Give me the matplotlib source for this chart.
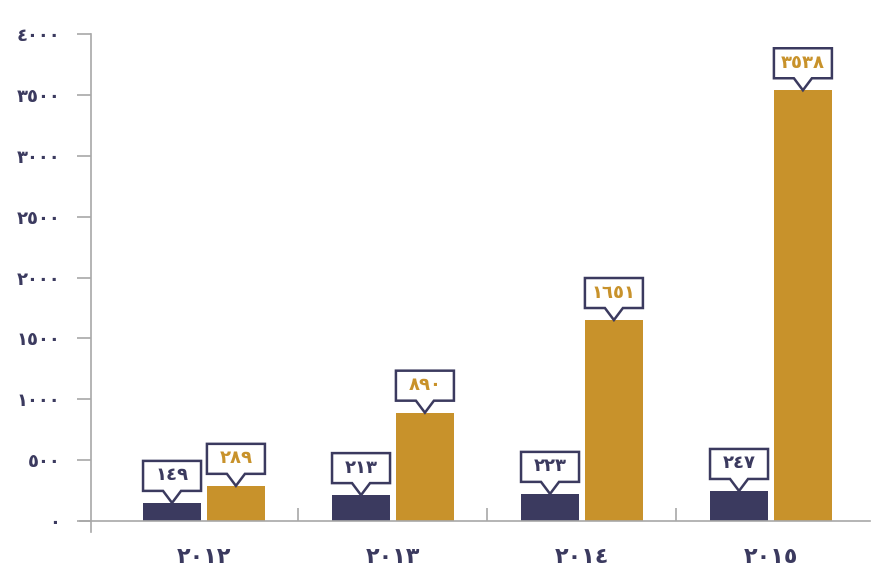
import matplotlib
matplotlib.use("Agg")
import matplotlib.pyplot as plt
import matplotlib.transforms as mtransforms
from matplotlib.patches import Polygon
import numpy as np

plt.rcParams['font.family'] = ['DejaVu Sans']

# data
years = ['٢٠١٢', '٢٠١٣', '٢٠١٤', '٢٠١٥']
series_a = [149, 213, 223, 247]
series_b = [289, 890, 1651, 3538]
yticks = [0, 500, 1000, 1500, 2000, 2500, 3000, 3500, 4000]

navy = '#3b3a5f'
gold = '#c8922b'
grey = '#a8a8a8'

AR = str.maketrans('0123456789', '٠١٢٣٤٥٦٧٨٩')


def ar(n):
    return str(n).translate(AR)


fig = plt.figure(figsize=(8.71, 5.68), dpi=100)
ax = fig.add_axes([80 / 871, 36 / 568, 790 / 871, 498 / 568])

x = np.arange(len(years))
w = 0.307
off = 0.169
ax.bar(x - off, series_a, w, color=navy, zorder=2)
ax.bar(x + off, series_b, w, color=gold, zorder=2)

ax.set_xlim(-0.656, 3.524)
ax.set_ylim(-90, 4000)

for s in ['top', 'right']:
    ax.spines[s].set_visible(False)
ax.spines['left'].set_position(('data', -0.598))
ax.spines['bottom'].set_position(('data', 0))
for s in ['left', 'bottom']:
    ax.spines[s].set_color(grey)
    ax.spines[s].set_linewidth(1.2)

ax.set_yticks(yticks)
ax.set_yticklabels([ar(v) for v in yticks])
ax.tick_params(axis='y', length=10, width=1.2, color=grey, pad=12,
               labelsize=13, labelcolor=navy)
for t in ax.get_yticklabels():
    t.set_fontweight('bold')

ax.set_xticks(x)
ax.set_xticklabels(years)
ax.tick_params(axis='x', length=0, pad=19, labelsize=16, labelcolor=navy)
for t in ax.get_xticklabels():
    t.set_fontweight('bold')
ax.set_xticks([0.5, 1.5, 2.5], minor=True)
ax.tick_params(axis='x', which='minor', direction='in', length=9.5,
               width=1.2, color=grey)

# callout boxes above each bar (offsets in pixels / 100 -> inches)
shape = np.array([(0, 0), (9, 12), (29, 12), (29, 42), (-29, 42),
                  (-29, 12), (-9, 12)]) / 100.0


def callout(xpos, val, color):
    tr = fig.dpi_scale_trans + mtransforms.ScaledTranslation(xpos, val, ax.transData)
    ax.add_patch(Polygon(shape, closed=True, facecolor='white', edgecolor=navy,
                         linewidth=1.8, transform=tr, clip_on=False, zorder=3,
                         joinstyle='miter'))
    ax.text(0, 0.275, ar(val), transform=tr, ha='center', va='center',
            fontsize=13, fontweight='bold', color=color, zorder=4, clip_on=False)


for i in range(len(years)):
    callout(x[i] - off, series_a[i], navy)
    callout(x[i] + off, series_b[i], gold)

fig.savefig('out.png', dpi=100)
